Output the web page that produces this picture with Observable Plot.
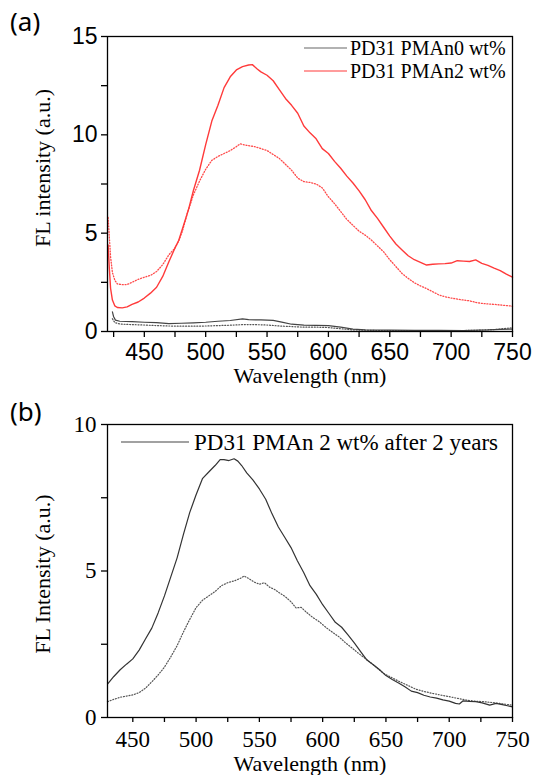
<!DOCTYPE html>
<html><head><meta charset="utf-8">
<script src="https://cdn.jsdelivr.net/npm/d3@7"></script>
<script src="https://cdn.jsdelivr.net/npm/@observablehq/plot@0.6"></script>
<style>body{margin:0;background:#fff;} #chart{width:533px;} svg{display:block;}</style>
</head><body><div id="chart"></div>
<script>
// ---------- Panel (a) data ----------
const aRedSolidWl = [420.5,421.5,422.5,424,426,428,432,436,440,445,450,455,460,465,470,475,478,482,486,490,495,500,505,510,515,520,525,530,535,538,542,545,550,555,560,565,570,575,580,585,590,595,600,605,610,615,620,625,630,635,640,645,650,655,660,665,670,675,680,685,690,695,700,705,710,715,720,725,730,735,740,745,750];
const aRedSolidFL = [4.4,3.2,2.2,1.6,1.3,1.22,1.2,1.25,1.38,1.5,1.7,1.95,2.25,2.8,3.55,4.25,4.63,5.4,6.2,7.17,8.2,9.5,10.7,11.5,12.4,12.95,13.3,13.47,13.55,13.57,13.35,13.2,13.03,12.75,12.3,11.85,11.5,11.1,10.45,10.1,9.8,9.3,9.05,8.65,8.3,7.9,7.55,7.15,6.7,6.15,5.75,5.3,4.85,4.45,4.15,3.85,3.65,3.52,3.38,3.42,3.44,3.45,3.48,3.6,3.58,3.56,3.64,3.46,3.36,3.22,3.1,2.92,2.76];

const aRedDotWl = [420.5,421.5,422.5,424,426,428,432,436,440,445,450,455,460,465,470,475,478,481,485,490,495,500,505,510,515,520,525,528,533,540,545,550,555,560,565,570,575,580,585,590,595,600,605,610,615,620,625,630,635,640,645,650,655,660,665,670,675,680,685,690,695,700,705,710,715,720,725,730,735,740,745,750];
const aRedDotFL = [5.8,4.8,3.8,3.0,2.6,2.42,2.38,2.39,2.5,2.65,2.76,2.85,3.05,3.4,3.9,4.25,4.6,5.1,6.0,6.95,7.65,8.25,8.7,8.9,9.05,9.2,9.4,9.54,9.47,9.4,9.3,9.2,9.0,8.8,8.5,8.2,7.8,7.62,7.58,7.5,7.3,6.85,6.5,6.1,5.7,5.4,5.1,4.9,4.65,4.35,4.05,3.65,3.3,2.95,2.7,2.48,2.32,2.18,2.02,1.86,1.77,1.7,1.65,1.6,1.56,1.48,1.43,1.4,1.38,1.35,1.32,1.29];

const aBlackSolidWl = [424,425,426.5,430,440,450,460,470,480,490,500,510,520,530,535,545,555,562,570,580,590,600,610,620,630,650,670,690,710,730,740,750];
const aBlackSolidFL = [1.0,0.75,0.58,0.52,0.5,0.47,0.45,0.4,0.42,0.44,0.47,0.52,0.56,0.64,0.6,0.59,0.57,0.48,0.37,0.32,0.31,0.3,0.22,0.12,0.08,0.07,0.06,0.06,0.05,0.08,0.11,0.12];

const aBlackDotWl = [424,426,430,440,450,460,470,480,490,500,510,520,530,540,550,560,570,580,590,600,610,620,640,660,680,700,720,735,745,750];
const aBlackDotFL = [0.65,0.45,0.38,0.35,0.33,0.3,0.28,0.27,0.27,0.28,0.3,0.32,0.35,0.35,0.33,0.28,0.25,0.22,0.22,0.2,0.14,0.08,0.05,0.04,0.04,0.04,0.06,0.1,0.16,0.19];

const aXTicks = [425,450,475,500,525,550,575,600,625,650,675,700,725,750];
const aYTicks = [0,2.5,5,7.5,10,12.5,15];
const aLegend = ["PD31 PMAn0 wt%", "PD31 PMAn2 wt%"];

// ---------- Panel (b) data ----------
const bSolidWl = [430,435,440,445,450,455,460,465,470,475,480,485,490,495,500,505,510,515,519,522,526,530,533,536,540,545,550,555,560,565,570,575,580,585,590,595,600,605,610,615,620,625,630,635,640,645,650,655,660,665,670,675,680,685,690,695,700,705,708,711,716,721,726,732,737,742,746,750];
const bSolidFL = [1.14,1.4,1.63,1.82,2.0,2.3,2.68,3.05,3.57,4.15,4.8,5.45,6.25,7.0,7.6,8.15,8.38,8.6,8.8,8.8,8.77,8.83,8.75,8.6,8.35,8.1,7.8,7.45,6.95,6.5,6.15,5.8,5.35,4.95,4.5,4.2,3.85,3.55,3.25,3.08,2.82,2.55,2.25,1.96,1.8,1.63,1.43,1.3,1.18,1.05,0.9,0.85,0.76,0.7,0.66,0.6,0.56,0.48,0.46,0.57,0.55,0.54,0.5,0.42,0.48,0.44,0.4,0.36];

const bDotWl = [430,435,440,445,450,455,460,465,470,475,480,485,490,495,500,505,510,515,520,525,530,535,538,542,546,550,554,558,562,566,570,575,579,583,587,592,597,603,608,613,618,623,628,635,640,648,655,661,668,674,680,687,694,700,707,714,720,727,734,740,745,750];
const bDotFL = [0.54,0.62,0.69,0.73,0.77,0.85,1.0,1.22,1.45,1.72,2.07,2.45,2.92,3.35,3.75,4.0,4.15,4.3,4.5,4.6,4.66,4.75,4.83,4.73,4.62,4.55,4.6,4.45,4.37,4.25,4.14,3.95,3.74,3.76,3.6,3.42,3.28,3.06,2.9,2.75,2.55,2.38,2.2,1.97,1.8,1.51,1.35,1.22,1.08,0.96,0.89,0.82,0.76,0.71,0.65,0.59,0.56,0.54,0.51,0.48,0.45,0.42];

const bXTicks = [450,475,500,525,550,575,600,625,650,675,700,725,750];
const bYTicks = [0,2.5,5,7.5,10];
const bLegend = "PD31 PMAn 2 wt% after 2 years";

const rows = (wl, v) => wl.map((w, i) => ({wl: w, fl: v[i]}));
const serif = "Liberation Serif, Times New Roman, serif";
const sans = "Liberation Sans, Arial, sans-serif";
const RED = "#ff3a3a";

// ---------- Panel (a) ----------
const panelA = Plot.plot({
  width: 533, height: 392,
  marginTop: 36, marginBottom: 61, marginLeft: 107, marginRight: 21,
  style: {background: "#fff", color: "#000", overflow: "visible"},
  x: {domain: [420, 750]},
  y: {domain: [0, 15]},
  marks: [
    Plot.line(rows(aBlackDotWl, aBlackDotFL), {x: "wl", y: "fl", stroke: "#555", strokeWidth: 1.2, strokeDasharray: "1,1.8"}),
    Plot.line(rows(aBlackSolidWl, aBlackSolidFL), {x: "wl", y: "fl", stroke: "#444", strokeWidth: 1.2}),
    Plot.line(rows(aRedDotWl, aRedDotFL), {x: "wl", y: "fl", stroke: "#ff4a4a", strokeWidth: 1.3, strokeDasharray: "1,1.8"}),
    Plot.line(rows(aRedSolidWl, aRedSolidFL), {x: "wl", y: "fl", stroke: RED, strokeWidth: 1.4}),
    Plot.axisX({ticks: aXTicks, tickSize: 6, tickPadding: 6, strokeWidth: 1.3, label: null,
      tickFormat: d => d % 50 === 0 ? String(d) : ""}),
    Plot.axisY({ticks: aYTicks, tickSize: 6, tickPadding: 4, strokeWidth: 1.3, label: null,
      tickFormat: d => d % 5 === 0 ? String(d) : ""}),
    Plot.frame({stroke: "#000", strokeWidth: 1.3})
  ]
});

// ---------- Panel (b) ----------
const panelB = Plot.plot({
  width: 533, height: 383,
  marginTop: 32, marginBottom: 58, marginLeft: 107, marginRight: 21,
  style: {background: "#fff", color: "#000", overflow: "visible"},
  x: {domain: [430, 750]},
  y: {domain: [0, 10]},
  marks: [
    Plot.line(rows(bDotWl, bDotFL), {x: "wl", y: "fl", stroke: "#555", strokeWidth: 1.2, strokeDasharray: "1,1.8"}),
    Plot.line(rows(bSolidWl, bSolidFL), {x: "wl", y: "fl", stroke: "#333", strokeWidth: 1.2}),
    Plot.axisX({ticks: bXTicks, tickSize: 5, tickPadding: 8, strokeWidth: 1.3, label: null,
      tickFormat: d => d % 50 === 0 ? String(d) : ""}),
    Plot.axisY({ticks: bYTicks, tickSize: 6, tickPadding: 5, strokeWidth: 1.3, label: null,
      tickFormat: d => d % 5 === 0 ? String(d) : ""}),
    Plot.frame({stroke: "#000", strokeWidth: 1.3})
  ]
});

// tick-label fonts
function styleTicks(svg, family, size) {
  d3.select(svg).selectAll("g[aria-label$='tick label'], g[aria-label$='tick label'] text")
    .attr("font-family", family).attr("font-size", size)
    .style("font-family", family).style("font-size", size + "px");
}
styleTicks(panelA, sans, 23);
styleTicks(panelB, serif, 23);

// ---------- annotations ----------
function addText(svg, txt, x, y, opts = {}) {
  const fam = opts.family || serif, sz = opts.size || 22;
  const t = d3.select(svg).append("text")
    .attr("x", x).attr("y", y)
    .attr("font-family", fam).attr("font-size", sz)
    .style("font-family", fam)
    .style("font-size", sz + "px")
    .style("fill", "#000")
    .attr("text-anchor", opts.anchor || "start")
    .text(txt);
  if (opts.rotate) t.attr("transform", `rotate(-90, ${x}, ${y})`);
  return t;
}
function addLine(svg, x1, x2, y, color) {
  d3.select(svg).append("line").attr("x1", x1).attr("x2", x2).attr("y1", y).attr("y2", y)
    .attr("stroke", color).attr("stroke-width", 1.2);
}

// panel (a)
addText(panelA, "(a)", 10, 31, {family: "Noto Sans, sans-serif", size: 26});
addText(panelA, "FL intensity (a.u.)", 50, 168, {anchor: "middle", rotate: true});
addText(panelA, "Wavelength (nm)", 310, 383, {anchor: "middle"});
addLine(panelA, 304, 347, 48, "#666");
addLine(panelA, 304, 347, 71, RED);
addText(panelA, aLegend[0], 350, 55, {size: 20});
addText(panelA, aLegend[1], 350, 78, {size: 20});

// panel (b)
addText(panelB, "(b)", 10, 29, {family: "Noto Sans, sans-serif", size: 26});
addText(panelB, "FL Intensity (a.u.)", 50, 182, {anchor: "middle", rotate: true});
addText(panelB, "Wavelength (nm)", 310, 379, {anchor: "middle"});
addLine(panelB, 121, 189, 50, "#444");
addText(panelB, bLegend, 194, 58, {size: 23});

document.getElementById("chart").append(panelA, panelB);
</script>
</body></html>
